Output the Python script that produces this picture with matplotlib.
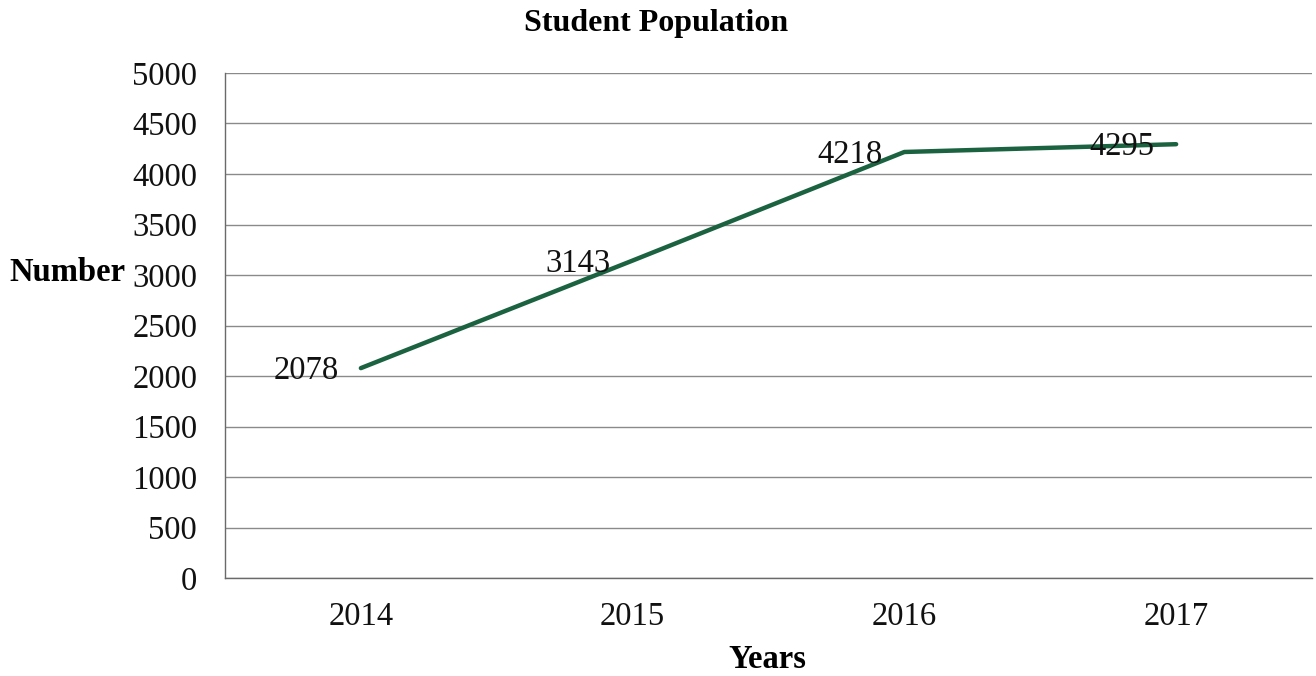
import matplotlib
matplotlib.use("Agg")
import matplotlib.pyplot as plt

years = ["2014", "2015", "2016", "2017"]
population = [2078, 3143, 4218, 4295]
yticks = [0, 500, 1000, 1500, 2000, 2500, 3000, 3500, 4000, 4500, 5000]

plt.rcParams['font.family'] = ['Liberation Serif', 'DejaVu Serif']

fig = plt.figure(figsize=(13.16, 6.76), dpi=100)
ax = fig.add_axes([225/1316, 1-578/676, (1312-225)/1316, (578-73)/676])

x = list(range(len(years)))
ax.plot(x, population, color="#1b6240", lw=3.2, solid_capstyle="round", zorder=3)
for xi, v in zip(x, population):
    ax.annotate(str(v), (xi, v), xytext=(-16, -2), textcoords="offset points",
                ha="right", va="center", fontsize=23.5, color="#111111", zorder=4)

ax.set_xlim(-0.5, 3.5)
ax.set_ylim(0, 5000)
ax.set_yticks(yticks)
ax.set_xticks(x)
ax.set_xticklabels(years)
ax.tick_params(axis="both", length=0, labelsize=23.5, colors="#111111")
ax.tick_params(axis="y", pad=20)
ax.tick_params(axis="x", pad=17)
ax.grid(axis="y", color="#8a8a8a", lw=1.0)
ax.set_axisbelow(True)
for s in ["top", "right"]:
    ax.spines[s].set_visible(False)
ax.spines["left"].set_color("#6a6a6a")
ax.spines["bottom"].set_color("#6a6a6a")
ax.spines["left"].set_linewidth(1.0)
ax.spines["bottom"].set_linewidth(1.0)

fig.text(656/1316, 1-24/676, "Student Population", ha="center", va="center",
         fontsize=23, fontweight="bold")
fig.text(67/1316, 1-272/676, "Number", ha="center", va="center",
         fontsize=23.5, fontweight="bold")
fig.text(767/1316, 1-660/676, "Years", ha="center", va="center",
         fontsize=23.5, fontweight="bold")

fig.savefig("out.png", dpi=100)
